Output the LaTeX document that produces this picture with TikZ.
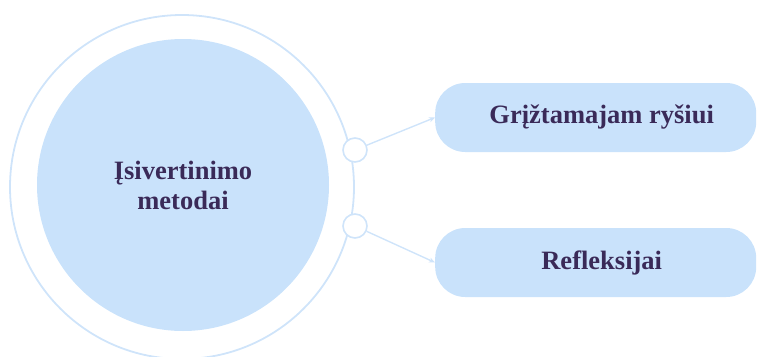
\documentclass[tikz,border=0pt]{standalone}
\usepackage{fontspec}
\setmainfont{Liberation Serif}
\usetikzlibrary{arrows.meta}
\definecolor{paleblue}{HTML}{C9E2FB}
\definecolor{ringblue}{HTML}{CFE4FA}
\definecolor{inkpurple}{HTML}{3A2A58}
\tikzset{
  hub/.style={circle, fill=paleblue, minimum size=292pt, inner sep=0pt,
    text=inkpurple, font=\fontsize{26.5}{30}\selectfont\bfseries, align=center},
  joint/.style={circle, draw=ringblue, line width=1.6pt, fill=white,
    minimum size=24pt, inner sep=0pt},
  pill/.style={fill=paleblue, rounded corners=30pt, minimum width=321pt,
    minimum height=69pt, inner sep=0pt, text=inkpurple,
    font=\fontsize{26.5}{30}\selectfont\bfseries},
  link/.style={draw=ringblue, line width=1.4pt, -{Stealth[length=6pt,width=5pt]}}
}
\begin{document}
\begin{tikzpicture}[x=1pt, y=-1pt]
  \useasboundingbox (0,0) rectangle (757,356);
  % outer ring around the central circle
  \draw[ringblue, line width=1.8pt] (182,187) circle[radius=172];
  \node[hub] (center) at (183,185) {Įsivertinimo\\metodai};
  % connection points on the ring
  \node[joint] (j1) at (355,150) {};
  \node[joint] (j2) at (355,226) {};
  % target boxes
  \node[pill, anchor=west] (b1) at (435,117.5) {\hspace*{12pt}Grįžtamajam ryšiui};
  \node[pill, anchor=west] (b2) at (435,262.5) {\hspace*{12pt}Refleksijai};
  % connectors
  \draw[link] (j1) -- (b1.west);
  \draw[link] (j2) -- (b2.west);
\end{tikzpicture}
\end{document}
